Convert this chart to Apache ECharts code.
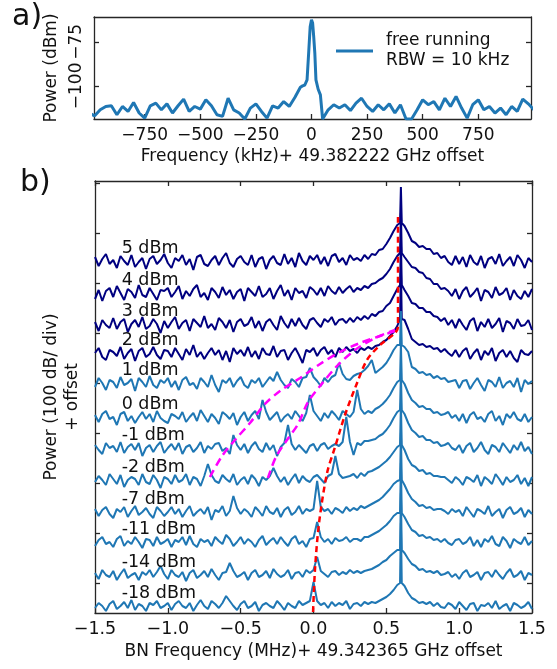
<!DOCTYPE html>
<html>
<head>
<meta charset="utf-8">
<script src="https://cdn.jsdelivr.net/npm/echarts@6/dist/echarts.min.js"></script>
<style>
  html, body { margin: 0; padding: 0; background: #fff; }
  #chart { width: 557px; height: 669px; }
</style>
</head>
<body>
<div id="chart"></div>
<script>
// ---------- panel a) : free running spectrum ----------
const topFreqKHz = [-1000,-975,-950,-925,-900,-875,-850,-825,-800,-775,-750,-725,-700,-675,-650,-625,-600,-575,-550,-525,
  -500,-475,-450,-425,-400,-375,-350,-325,-300,-275,-250,-225,-200,-175,-150,-125,-100,-75,-50,
  -40,-30,-20,-12,-6,0,5,10,15,20,30,40,
  50,75,100,125,150,175,200,225,250,275,300,325,350,375,400,425,450,475,500,525,550,575,600,625,650,675,700,725,750,
  775,800,825,850,875,900,925,950,975,1000];
const topPowerDbm = [-115.4,-117.0,-113.6,-111.7,-111.3,-116.4,-111.7,-114.5,-109.4,-115.4,-118.3,-111.3,-109.8,-113.6,-110.2,-115.4,-111.3,-107.5,-114.5,-111.7,
  -113.2,-107.9,-111.3,-116.4,-117.3,-107.0,-113.6,-115.4,-118.8,-112.6,-110.2,-114.5,-118.3,-111.3,-112.6,-108.9,-111.7,-106.6,-100.8,
  -100.0,-99.5,-96.6,-79.7,-66.5,-62.5,-64.3,-72.2,-81.6,-96.6,-101.9,-105.1,
  -118.8,-113.6,-110.7,-112.6,-110.7,-114.0,-109.8,-107.0,-111.7,-114.5,-110.7,-113.6,-110.2,-115.4,-110.7,-118.8,-118.8,-113.6,-107.9,-110.7,-108.9,-113.6,-107.0,-111.7,-106.0,-112.6,-118.3,-110.7,-107.9,
  -113.6,-111.7,-115.4,-112.6,-116.4,-111.7,-114.5,-107.5,-110.2,-113.6];
const topTicksKHz = [-750, -500, -250, 0, 250, 500, 750];
const topTicksDbm = [-100, -75];
const legendName = 'free running\nRBW = 10 kHz';

// ---------- panel b) : injection locking traces ----------
// power levels of each trace, offset (stacking) and carrier spike height, same units as the y axis
const powerLabels = ['5 dBm', '4 dBm', '3 dBm', '2 dBm', '1 dBm', '0 dBm', '-1 dBm', '-2 dBm', '-7 dBm', '-11 dBm', '-14 dBm', '-18 dBm'];
const traceOffset = [352, 320, 289, 260, 230, 196, 165, 133, 101, 71, 38, 7];
const carrierPeak = [74, 80, 83, 85, 72, 74, 75, 77, 79, 79, 82, 83];
const bottomTicksY = [30, 80, 130, 180, 230, 280, 330, 380, 430];

// relative power on a 0.025 MHz grid from -1.5 to 1.5 MHz (121 samples)
const p5dBm = [4,-5,2,7,-3,1,-7,5,0,-4,6,-6,-1,3,-8,2,5,-3,1,7,
  -2,-7,3,0,6,-4,2,-9,4,6,-3,-5,1,5,-4,3,8,-2,-6,2,
  5,-1,-4,6,-6,2,4,-8,1,5,-2,-4,7,-3,3,-6,8,0,-4,5,
  1,6,-3,4,-5,5,7,-1,3,-4,6,1,3,0,6,2,7,6,11,12,
  17,23,30,36,38,35,28,20,18,14,15,12,12,7,8,3,5,-1,-4,5,
  -3,4,-6,6,-1,-4,5,-7,2,4,-3,7,-5,0,4,-5,6,1,-7,3,-1];
const p4dBm = [-6,3,-8,2,5,-4,7,0,-7,4,1,-5,8,-2,-4,5,-1,-7,3,2,
  5,-4,1,7,-6,2,-3,4,8,-4,0,-7,5,1,-5,6,-2,3,-6,1,
  4,-8,5,1,-3,7,-4,-1,5,-6,2,8,-3,3,-7,5,0,2,-5,6,
  3,-2,5,-3,7,2,-1,6,0,4,7,1,5,3,7,5,9,10,13,15,
  19,24,31,37,40,36,31,26,25,21,20,15,14,9,9,4,5,2,-3,4,
  -6,2,6,-4,0,5,-8,3,1,-5,6,-2,0,5,-7,3,-3,-6,2,-4,4];
const p3dBm = [2,-7,4,-1,-4,6,-5,2,5,-8,0,4,-3,7,-5,-2,5,0,-9,3,
  -4,2,7,-5,1,4,-7,5,1,-3,8,-4,0,-6,6,2,-4,4,-8,2,
  5,-2,0,7,-4,3,-7,2,5,-1,-6,8,1,-4,5,-2,6,-1,-5,4,
  6,1,-3,5,2,7,-1,4,5,1,6,2,7,4,8,5,10,8,12,13,
  18,21,28,35,39,34,28,21,20,16,16,12,12,8,7,3,6,-1,4,-4,
  5,-1,-6,3,6,-7,2,-3,5,-4,0,6,-8,3,1,-5,5,-2,-1,4,-6];
const p2dBm = [0,5,-4,-7,3,1,-3,6,-6,0,4,-8,2,5,-4,-1,6,-2,-6,3,
  2,-4,5,-1,-7,4,-2,8,-4,1,-6,0,5,-2,3,-7,2,-9,5,-1,
  3,-3,6,-4,2,-6,5,-1,-2,7,-4,2,3,-7,0,5,-2,-10,3,1,
  5,-3,3,6,-1,3,-4,5,1,6,2,4,0,5,3,6,4,7,8,11,
  13,17,21,27,34,33,24,14,11,8,9,6,7,4,5,1,4,0,-3,3,
  -4,2,5,-6,0,4,-7,2,-2,5,-8,0,3,-4,2,-5,-9,3,-1,-2,2];
const p1dBm = [-4,5,0,-7,3,1,-5,6,-2,0,4,-8,5,1,-4,7,-2,-5,3,0,
  5,-4,2,-7,3,6,-2,0,-6,5,1,-4,8,-2,-9,3,0,5,-4,2,
  6,-2,-5,3,0,5,-4,1,6,2,11,3,-2,-5,4,1,-4,5,6,15,
  6,2,-3,5,1,6,8,20,9,4,3,7,9,10,13,17,23,10,13,16,
  20,26,33,38,38,36,31,16,14,10,11,8,9,5,7,4,5,1,2,3,
  -5,2,3,-6,0,5,-2,-8,3,1,-4,6,-5,0,2,-4,5,-9,3,-1,2];
const p0dBm = [2,-5,3,6,-2,0,-8,3,5,-4,1,-6,0,5,-2,3,-5,6,-1,-4,
  -6,3,1,-2,5,-5,0,4,-4,7,1,-5,3,-1,-7,5,2,-2,4,-8,
  0,5,-4,2,6,-2,17,5,-3,1,5,-5,0,3,-2,6,1,-4,4,22,
  6,1,-4,4,-1,6,2,-3,6,3,0,5,27,8,3,6,4,8,10,13,
  17,22,29,35,37,33,24,17,14,10,11,8,8,4,5,2,3,5,-1,2,
  -4,3,-6,2,5,-2,0,-5,3,6,-4,1,-8,3,-1,5,-2,-4,3,-5,0];
const pm1dBm = [3,-2,-6,5,0,2,-4,6,-5,1,4,-2,5,-8,0,3,-4,2,6,-5,
  0,4,-2,5,-6,1,3,-4,0,6,-5,2,-1,4,5,-3,0,-6,13,3,
  -2,4,-5,2,6,-1,-4,5,-2,3,-8,1,5,23,4,-2,3,-1,-5,2,
  4,-3,3,5,-1,2,4,2,6,31,6,-7,5,3,7,7,8,9,12,14,
  18,23,30,36,38,34,25,18,15,11,12,8,8,5,6,2,3,5,0,-2,
  3,-5,2,5,-4,0,6,-2,-6,3,1,-4,5,0,-5,3,-2,6,-3,1,-6];
const pm2dBm = [-2,4,0,-5,6,1,-4,5,-7,0,3,1,-5,6,-2,-4,5,0,-8,3,
  1,-4,5,-2,0,6,-5,3,1,-6,4,16,5,-1,-3,5,1,-2,6,-5,
  0,3,-4,5,1,-6,3,0,4,12,4,-2,3,-5,1,6,-3,4,0,-2,
  3,5,1,-3,4,6,24,6,2,3,4,6,2,7,4,8,9,11,13,16,
  19,23,28,33,35,30,21,15,13,9,10,6,7,4,4,3,3,0,-3,3,
  0,-5,3,1,-2,5,-6,3,0,-4,6,1,-5,3,-2,0,5,-4,2,-6,3];
const pm7dBm = [3,-4,2,5,-2,-6,3,0,5,-5,1,6,-3,0,4,-2,-6,5,1,-4,
  0,5,-2,3,-5,1,6,-4,0,3,-2,5,-8,2,0,6,-4,1,16,4,
  -2,3,0,-5,5,1,-4,6,0,-2,4,-5,2,5,-3,0,6,-2,3,1,
  3,31,5,1,3,-2,4,2,-1,5,1,4,2,6,4,6,8,10,12,15,
  19,23,28,31,32,27,19,13,10,6,7,4,5,2,3,3,1,-2,3,0,
  2,-4,5,0,-5,3,1,-2,6,-4,0,3,-6,2,5,-2,0,4,-5,2,-2];
const pm11dBm = [-4,2,5,-2,0,-5,3,6,-4,1,-2,5,0,-6,3,2,-4,5,-2,0,
  3,-5,2,0,5,-3,6,-2,-5,3,0,2,-4,5,1,-2,7,3,-4,0,
  5,-2,3,0,-5,2,6,-3,1,4,-2,5,0,-4,3,6,-2,1,-5,3,
  4,20,5,0,3,-2,4,1,2,5,0,3,3,1,5,5,7,9,11,14,
  17,21,26,29,29,25,18,12,10,6,7,4,5,2,3,0,3,-1,-3,2,
  3,-2,0,5,-4,2,-5,3,0,6,-2,-4,5,1,-6,3,0,-2,5,-3,1];
const pm14dBm = [2,-4,5,0,-2,4,-5,1,6,-3,0,2,-5,3,0,5,-2,3,9,1,
  -4,5,0,-2,3,-6,2,5,-3,0,4,-2,6,0,-5,2,3,12,4,-2,
  0,3,-5,2,5,-2,0,4,-3,6,1,-2,0,5,-4,2,3,-2,5,2,
  5,18,4,1,-2,3,4,0,3,1,5,2,4,2,4,5,6,8,10,13,
  15,19,22,25,25,22,16,11,9,5,6,3,4,2,4,0,1,3,-2,1,
  -4,2,5,-2,0,3,-5,2,3,-2,5,0,-4,2,6,-2,0,4,-5,2,0];
const pm18dBm = [-2,3,0,-5,2,5,-3,0,4,-2,6,-4,2,0,-5,3,1,5,-2,0,
  3,-4,2,5,0,-2,3,-5,1,6,0,-3,5,2,-2,3,10,5,0,-4,
  2,5,-2,0,4,-5,1,3,0,-2,5,1,-4,3,0,-2,5,1,3,5,
  24,5,1,3,-2,4,0,3,1,5,-3,2,3,0,4,2,4,3,5,7,
  9,12,16,21,23,20,13,8,6,3,4,2,4,0,3,-1,-2,3,1,-3,
  4,0,-4,2,3,-5,1,0,3,-2,5,-3,0,2,-5,3,1,-2,0,4,-3];
const traces = [p5dBm, p4dBm, p3dBm, p2dBm, p1dBm, p0dBm, pm1dBm, pm2dBm, pm7dBm, pm11dBm, pm14dBm, pm18dBm];

// guide lines following the sidebands
const magentaOuterX = [-0.711, -0.628, -0.539, -0.436, -0.333, -0.230, -0.092, 0.045, 0.182, 0.319, 0.457, 0.560];
const magentaOuterY = [136, 157, 173, 190, 209, 222, 235, 249, 261, 270, 277, 282];
const magentaInnerX = [-0.313, -0.258, -0.182, -0.106, -0.038, 0.045, 0.168, 0.285, 0.422, 0.560];
const magentaInnerY = [135, 156, 173, 189, 211, 227, 248, 263, 275, 283];
const redX = [-0.003, 0.010, 0.038, 0.093, 0.148, 0.216, 0.299, 0.367, 0.457, 0.560, 0.580, 0.580];
const redY = [1, 43, 90, 140, 166, 198, 230, 253, 268, 280, 286, 396];

// frequency sampling of the traces
const freqMHz = [];
for (let i = 0; i <= 120; i++) freqMHz.push(+(-1.5 + 0.025 * i).toFixed(3));
const carrierIdx = 84; // 0.6 MHz

const FONT = 'DejaVu Sans';
const INK = '#111';
const SPINE = { color: '#262626', width: 1.3 };
const LIGHT = '#1f77b4';
const DARK = '#000080';
const minus = s => String(s).replace('-', '\u2212');

const zip = (xs, ys) => xs.map((x, i) => [x, ys[i]]);

const traceData = (vals, off, peak) => {
  const pts = [];
  vals.forEach((v, i) => {
    if (i === carrierIdx) {
      pts.push([0.594, off + v], [0.6, off + peak], [0.606, off + v]);
    } else {
      pts.push([freqMHz[i], off + v]);
    }
  });
  return pts;
};

const chart = echarts.init(document.getElementById('chart'));

const baseAxis = {
  type: 'value',
  axisLine: { show: true, onZero: false, lineStyle: SPINE },
  axisTick: { show: true, inside: true, length: 5, lineStyle: SPINE },
  splitLine: { show: false },
};

const series = [];
series.push({
  name: legendName,
  type: 'line',
  xAxisIndex: 0, yAxisIndex: 0,
  data: zip(topFreqKHz, topPowerDbm),
  showSymbol: false, symbol: 'none',
  lineStyle: { color: LIGHT, width: 3 },
  itemStyle: { color: LIGHT },
  clip: true, z: 3,
});

traces.forEach((vals, k) => {
  const dark = k < 4;
  series.push({
    name: powerLabels[k],
    type: 'line',
    xAxisIndex: 2, yAxisIndex: 2,
    data: traceData(vals, traceOffset[k], carrierPeak[k]),
    showSymbol: false, symbol: 'none',
    lineStyle: { color: dark ? DARK : LIGHT, width: 2 },
    clip: true, z: dark ? 2 : 3,
  });
});

const dashed = (name, xs, ys, color, dash) => ({
  name, type: 'line', xAxisIndex: 2, yAxisIndex: 2,
  data: zip(xs, ys), showSymbol: false, symbol: 'none', smooth: 0.3,
  lineStyle: { color, width: 2.5, type: dash }, z: 5,
});
series.push(dashed('outer', magentaOuterX, magentaOuterY, '#ff00ff', [8, 5]));
series.push(dashed('inner', magentaInnerX, magentaInnerY, '#ff00ff', [8, 5]));
series.push(dashed('locking', redX, redY, '#ff0000', [6, 4]));

series.push({
  name: 'labels', type: 'scatter', xAxisIndex: 2, yAxisIndex: 2,
  symbolSize: 0, z: 6, silent: true,
  itemStyle: { opacity: 1 },
  data: traceOffset.map(o => [-1.317, o + 13]),
  label: {
    show: true, position: 'right', distance: 0,
    formatter: p => powerLabels[p.dataIndex],
    fontFamily: FONT, fontSize: 17.5, color: INK, opacity: 1,
  },
});

chart.setOption({
  animation: false,
  backgroundColor: '#fff',
  textStyle: { fontFamily: FONT },
  grid: [
    { left: 94, top: 17, width: 437, height: 102 },
    { left: 95, top: 181, width: 437, height: 432 },
  ],
  legend: {
    data: [{ name: legendName, icon: 'rect' }],
    left: 336, top: 31, padding: 0,
    itemWidth: 37, itemHeight: 3,
    textStyle: { fontFamily: FONT, fontSize: 17, color: INK, lineHeight: 20, padding: [0, 0, 0, 8] },
  },
  xAxis: [
    Object.assign({}, baseAxis, {
      gridIndex: 0, min: -978, max: 987,
      axisTick: Object.assign({}, baseAxis.axisTick, { customValues: topTicksKHz }),
      axisLabel: { customValues: topTicksKHz, formatter: v => minus(v), fontSize: 17, color: INK, margin: 8 },
      name: 'Frequency (kHz)+ 49.382222 GHz offset', nameLocation: 'middle', nameGap: 29,
      nameTextStyle: { fontSize: 17, color: INK },
    }),
    Object.assign({}, baseAxis, {
      gridIndex: 0, min: -978, max: 987, position: 'top',
      axisTick: { show: false }, axisLabel: { show: false },
    }),
    Object.assign({}, baseAxis, {
      gridIndex: 1, min: -1.5, max: 1.5, interval: 0.5,
      axisLabel: { formatter: v => minus(v.toFixed(1)), fontSize: 17.5, color: INK, margin: 7 },
      name: 'BN Frequency (MHz)+ 49.342365 GHz offset', nameLocation: 'middle', nameGap: 30,
      nameTextStyle: { fontSize: 17, color: INK },
    }),
    Object.assign({}, baseAxis, {
      gridIndex: 1, min: -1.5, max: 1.5, interval: 0.5, position: 'top',
      axisLabel: { show: false },
    }),
  ],
  yAxis: [
    Object.assign({}, baseAxis, {
      gridIndex: 0, min: -118.8, max: -60.9,
      axisTick: Object.assign({}, baseAxis.axisTick, { customValues: topTicksDbm }),
      axisLabel: { customValues: topTicksDbm, rotate: 90, formatter: v => minus(v), fontSize: 17, color: INK, margin: 9 },
      name: 'Power (dBm)', nameLocation: 'middle', nameRotate: 90, nameGap: 32,
      nameTextStyle: { fontSize: 17, color: INK },
    }),
    Object.assign({}, baseAxis, {
      gridIndex: 0, min: -118.8, max: -60.9, position: 'right',
      axisTick: Object.assign({}, baseAxis.axisTick, { customValues: topTicksDbm }),
      axisLabel: { show: false },
    }),
    Object.assign({}, baseAxis, {
      gridIndex: 1, min: 0, max: 432,
      axisTick: Object.assign({}, baseAxis.axisTick, { customValues: bottomTicksY }),
      axisLabel: { show: false },
      name: 'Power (100 dB/ div)\n+ offset', nameLocation: 'middle', nameRotate: 90, nameGap: 12,
      nameTextStyle: { fontSize: 17, color: INK, lineHeight: 21, align: 'center' },
    }),
    Object.assign({}, baseAxis, {
      gridIndex: 1, min: 0, max: 432, position: 'right',
      axisTick: Object.assign({}, baseAxis.axisTick, { customValues: bottomTicksY }),
      axisLabel: { show: false },
    }),
  ],
  graphic: [
    { type: 'text', left: 12, top: 2, style: { text: 'a)', font: '30px "DejaVu Sans"', fill: INK } },
    { type: 'text', left: 20, top: 168, style: { text: 'b)', font: '30px "DejaVu Sans"', fill: INK } },
  ],
  series,
});
</script>
</body>
</html>
